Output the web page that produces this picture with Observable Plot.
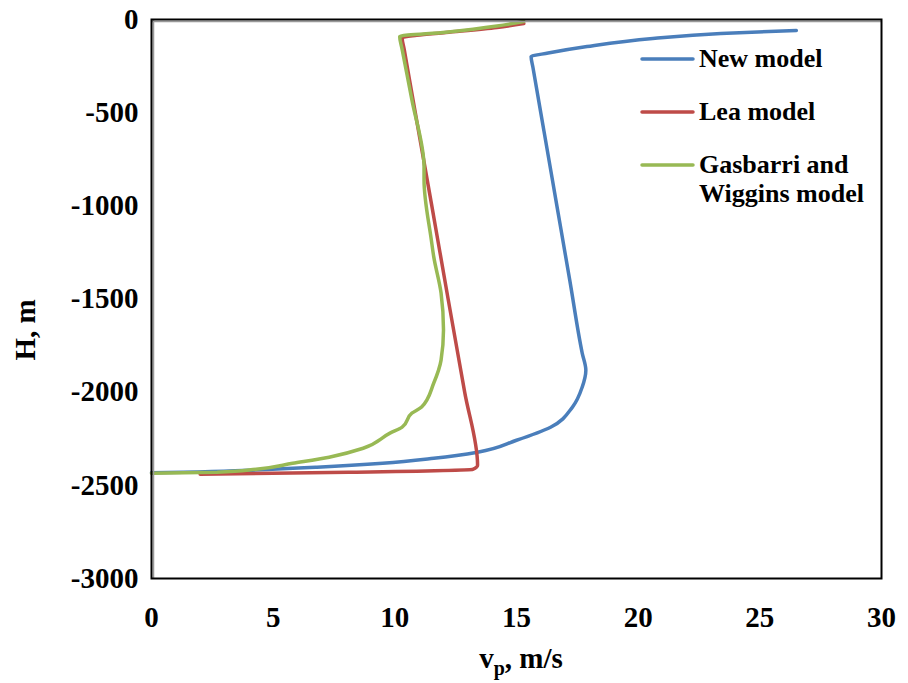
<!DOCTYPE html>
<html>
<head>
<meta charset="utf-8">
<script src="https://cdn.jsdelivr.net/npm/d3@7"></script>
<script src="https://cdn.jsdelivr.net/npm/@observablehq/plot@0.6"></script>
<style>
  html, body { margin: 0; padding: 0; background: #fff; }
  #chart { position: relative; width: 908px; height: 683px; }
</style>
</head>
<body>
<div id="chart"></div>
<script>
// Series names
const seriesNames = ["New model", "Lea model", "Gasbarri and Wiggins model"];
const seriesColors = ["#4A7EBB", "#BE4B48", "#98B954"];

// New model: velocity (m/s) and depth H (m)
const newModelV = [26.5, 23.4, 20.6, 17.9, 16.3, 15.6, 15.68, 16.13, 16.66, 17.19, 17.7, 17.85, 17.7, 17.3, 16.4, 15.0, 13.4, 11.6, 9.5, 6.8, 4.0, 1.3, 0.0];
const newModelH = [-59, -75, -102, -145, -180, -199, -260, -600, -1000, -1400, -1790, -1882, -1973, -2080, -2188, -2258, -2322, -2355, -2382, -2403, -2419, -2430, -2432];

// Lea model
const leaV = [15.3, 14.2, 12.1, 10.9, 10.3, 10.385, 10.84, 11.52, 12.19, 12.87, 13.4, 13.2, 8.1, 2.0];
const leaH = [-22, -43, -70, -85, -97, -160, -500, -1000, -1500, -2000, -2392, -2414, -2430, -2441];

// Gasbarri and Wiggins model
const gwV = [15.3, 14.2, 12.1, 10.2, 10.3, 10.7, 11.2, 11.2, 11.5, 11.6, 11.9, 12.0, 11.9, 11.6, 11.1, 10.7, 10.3, 9.8, 8.7, 7.3, 5.8, 4.3, 2.7, 0.0];
const gwH = [-11, -35, -68, -91, -160, -430, -790, -860, -1183, -1274, -1468, -1667, -1828, -1951, -2080, -2113, -2188, -2220, -2301, -2349, -2382, -2414, -2430, -2435];

// Tick values
const xTicks = [0, 5, 10, 15, 20, 25, 30];
const yTicks = [0, -500, -1000, -1500, -2000, -2500, -3000];

const toRows = (vs, hs) => vs.map((v, i) => ({v, h: hs[i]}));
const seriesData = [toRows(newModelV, newModelH), toRows(leaV, leaH), toRows(gwV, gwH)];

const W = 908, H = 683;
const mL = 151, mR = 27, mT = 19, mB = 105;

const plot = Plot.plot({
  width: W,
  height: H,
  marginLeft: mL,
  marginRight: mR,
  marginTop: mT,
  marginBottom: mB,
  style: {fontFamily: "'Liberation Serif', 'Times New Roman', serif", fontSize: "29px", fontWeight: "bold", color: "#000", background: "#fff"},
  x: {domain: [0, 30], ticks: xTicks, tickSize: 0, tickPadding: 28, label: null, tickFormat: d => String(d)},
  y: {domain: [-3000, 0], ticks: yTicks, tickSize: 0, tickPadding: 13, label: null, tickFormat: d => String(d)},
  marks: [
    ...seriesData.map((rows, i) => Plot.line(rows, {x: "v", y: "h", stroke: seriesColors[i], strokeWidth: 3.5, curve: "monotone-y"})),
    Plot.ruleX([0], {stroke: "#999", strokeWidth: 1.5, dx: 2}),
    Plot.ruleY([0], {stroke: "#999", strokeWidth: 1.5, dy: 2}),
    Plot.frame({stroke: "#000", strokeWidth: 2})
  ]
});

document.getElementById("chart").appendChild(plot);

const svg = d3.select(plot);
const font = "'Liberation Serif', 'Times New Roman', serif";

// Axis titles
const xt = svg.append("text")
  .attr("x", 521).attr("y", 668)
  .attr("text-anchor", "middle")
  .attr("font-family", font).attr("font-size", 29).attr("font-weight", "bold").attr("fill", "#000");
xt.append("tspan").text("v");
xt.append("tspan").attr("dy", 7).attr("font-size", 20).text("p");
xt.append("tspan").attr("dy", -7).text(", m/s");

svg.append("text")
  .attr("transform", "translate(35,330) rotate(-90)")
  .attr("text-anchor", "middle")
  .attr("font-family", font).attr("font-size", 29).attr("font-weight", "bold").attr("fill", "#000")
  .text("H, m");

// Legend
const legendRows = [
  {y: 59, lines: ["New model"]},
  {y: 112, lines: ["Lea model"]},
  {y: 165, lines: ["Gasbarri and", "Wiggins model"]}
];
legendRows.forEach((r, i) => {
  svg.append("line")
    .attr("x1", 642).attr("x2", 693).attr("y1", r.y).attr("y2", r.y)
    .attr("stroke", seriesColors[i]).attr("stroke-width", 3.5).attr("stroke-linecap", "round");
  r.lines.forEach((t, j) => {
    svg.append("text")
      .attr("x", 699).attr("y", r.y + j * 29 + 8)
      .attr("text-anchor", "start")
      .attr("font-family", font).attr("font-size", 26).attr("font-weight", "bold").attr("fill", "#000")
      .text(t);
  });
});
</script>
</body>
</html>
